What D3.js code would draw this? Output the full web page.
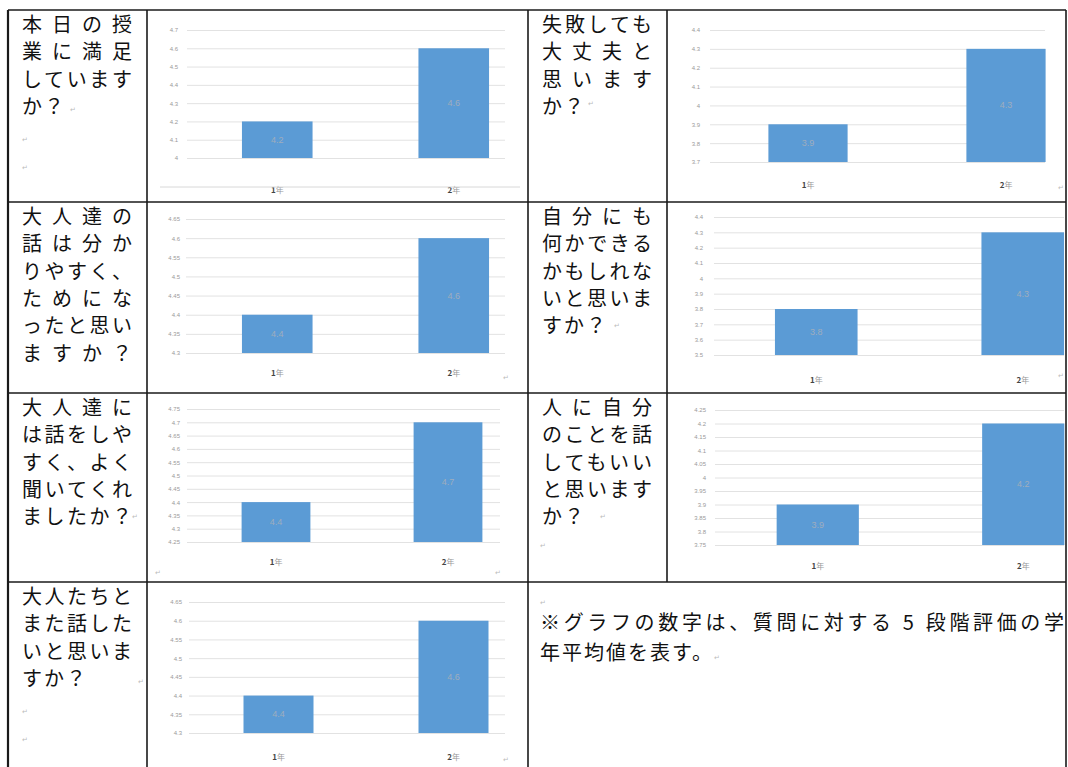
<!DOCTYPE html>
<html><head><meta charset="utf-8">
<script src="https://cdn.jsdelivr.net/npm/d3@7"></script>
<style>html,body{margin:0;padding:0;background:#fff;} svg{display:block}</style>
</head><body><svg id="c" width="1068" height="767"></svg>
<script>
// ---------- data ----------
const categories = ["1年", "2年"];

const qSatisfied      = ["本日の授", "業に満足", "しています", "か？"];
const qFailureOk      = ["失敗しても", "大丈夫と", "思います", "か？"];
const qTalkUnderstood = ["大人達の", "話は分か", "りやすく、", "ためにな", "ったと思い", "ますか？"];
const qCanDo          = ["自分にも", "何かできる", "かもしれな", "いと思いま", "すか？"];
const qEasyToTalk     = ["大人達に", "は話をしや", "すく、よく", "聞いてくれ", "ましたか？"];
const qTellSelf       = ["人に自分", "のことを話", "してもいい", "と思います", "か？"];
const qTalkAgain      = ["大人たちと", "また話した", "いと思いま", "すか？"];

const valsSatisfied      = [4.2, 4.6];
const valsFailureOk      = [3.9, 4.3];
const valsTalkUnderstood = [4.4, 4.6];
const valsCanDo          = [3.8, 4.3];
const valsEasyToTalk     = [4.4, 4.7];
const valsTellSelf       = [3.9, 4.2];
const valsTalkAgain      = [4.4, 4.6];

const ticksSatisfied      = ["4", "4.1", "4.2", "4.3", "4.4", "4.5", "4.6", "4.7"];
const ticksFailureOk      = ["3.7", "3.8", "3.9", "4", "4.1", "4.2", "4.3", "4.4"];
const ticksTalkUnderstood = ["4.3", "4.35", "4.4", "4.45", "4.5", "4.55", "4.6", "4.65"];
const ticksCanDo          = ["3.5", "3.6", "3.7", "3.8", "3.9", "4", "4.1", "4.2", "4.3", "4.4"];
const ticksEasyToTalk     = ["4.25", "4.3", "4.35", "4.4", "4.45", "4.5", "4.55", "4.6", "4.65", "4.7", "4.75"];
const ticksTellSelf       = ["3.75", "3.8", "3.85", "3.9", "3.95", "4", "4.05", "4.1", "4.15", "4.2", "4.25"];
const ticksTalkAgain      = ["4.3", "4.35", "4.4", "4.45", "4.5", "4.55", "4.6", "4.65"];

const footnoteLines = ["※グラフの数字は、質問に対する 5 段階評価の学", "年平均値を表す。"];

// ---------- layout (positions only) ----------
const colX = [8, 147, 528, 667, 1066];
const rowY = [10, 202, 393, 582, 767];

const charts = [
  {q: qSatisfied,      v: valsSatisfied,      t: ticksSatisfied,      col: 0, row: 0, gridL: 187, gridR: 505,  yTop: 30,  yBot: 158, xr: [189, 542],  labelX: 178, catY: 193},
  {q: qFailureOk,      v: valsFailureOk,      t: ticksFailureOk,      col: 1, row: 0, gridL: 710, gridR: 1045, yTop: 30,  yBot: 162, xr: [709, 1105], labelX: 700, catY: 188},
  {q: qTalkUnderstood, v: valsTalkUnderstood, t: ticksTalkUnderstood, col: 0, row: 1, gridL: 186, gridR: 505,  yTop: 219, yBot: 353, xr: [189, 542],  labelX: 180, catY: 376},
  {q: qCanDo,          v: valsCanDo,          t: ticksCanDo,          col: 1, row: 1, gridL: 714, gridR: 1064, yTop: 217, yBot: 355, xr: [713, 1126], labelX: 703, catY: 383},
  {q: qEasyToTalk,     v: valsEasyToTalk,     t: ticksEasyToTalk,     col: 0, row: 2, gridL: 187, gridR: 500,  yTop: 409, yBot: 542, xr: [190, 534],  labelX: 180, catY: 565},
  {q: qTellSelf,       v: valsTellSelf,       t: ticksTellSelf,       col: 1, row: 2, gridL: 715, gridR: 1064, yTop: 410, yBot: 545, xr: [715, 1126], labelX: 706, catY: 569},
  {q: qTalkAgain,      v: valsTalkAgain,      t: ticksTalkAgain,      col: 0, row: 3, gridL: 189, gridR: 505,  yTop: 602, yBot: 733, xr: [191, 541],  labelX: 182, catY: 760}
];

const svg = d3.select("#c");
const JP = "'Noto Sans CJK JP', 'Noto Sans CJK SC', sans-serif";

charts.forEach(c => {
  const qx = colX[c.col * 2] + 14;
  const ry = rowY[c.row];
  // question text
  c.q.forEach((line, i) => {
    const chars = Array.from(line).length;
    const t = svg.append("text")
      .attr("x", qx)
      .attr("y", ry + 22 + i * 27.3)
      .attr("font-family", JP)
      .attr("font-size", 20)
      .attr("fill", "#111")
      .text(line);
    if (chars >= 4) t.attr("textLength", 110).attr("lengthAdjust", "spacing");
    else t.attr("letter-spacing", 2);
  });

  // chart
  const y = d3.scaleLinear().domain([+c.t[0], +c.t[c.t.length - 1]]).range([c.yBot, c.yTop]);
  const x = d3.scaleBand().domain(categories).range(c.xr).paddingInner(0.6).paddingOuter(0.3);
  const g = svg.append("g");

  const ya = g.append("g").attr("transform", `translate(${c.gridL},0)`)
    .call(d3.axisLeft(y).tickValues(c.t.map(Number)).tickFormat((d, i) => c.t[i])
      .tickSize(-(c.gridR - c.gridL)).tickPadding(c.gridL - c.labelX));
  ya.select(".domain").remove();
  ya.selectAll(".tick line").attr("stroke", "#e2e2e2").attr("stroke-width", 1);
  ya.selectAll(".tick text").attr("fill", "#9a9a9a").attr("font-size", 6)
    .attr("font-family", "'Liberation Sans', Arial, sans-serif");

  g.selectAll("rect.bar").data(c.v).enter().append("rect")
    .attr("class", "bar")
    .attr("x", (d, i) => x(categories[i]))
    .attr("width", x.bandwidth())
    .attr("y", d => y(d))
    .attr("height", d => y.range()[0] - y(d))
    .attr("fill", "#5B9BD5");

  g.selectAll("text.val").data(c.v).enter().append("text")
    .attr("class", "val")
    .attr("x", (d, i) => x(categories[i]) + x.bandwidth() / 2)
    .attr("y", d => (y(d) + y.range()[0]) / 2 + 3)
    .attr("text-anchor", "middle")
    .attr("font-family", "'Liberation Sans', Arial, sans-serif")
    .attr("font-size", 9)
    .attr("fill", "#9fadbd")
    .text(d => d.toFixed(1));

  const xa = g.append("g").attr("transform", `translate(0,${c.catY})`)
    .call(d3.axisBottom(x).tickSize(0).tickPadding(0));
  xa.select(".domain").remove();
  xa.selectAll(".tick text").attr("dy", 0).attr("fill", "#666").attr("font-size", 8)
    .attr("font-family", JP)
    .each(function(d) {
      const s = d3.select(this); s.text("");
      s.append("tspan").attr("font-weight", "bold").attr("fill", "#444").text(d.slice(0, 1));
      s.append("tspan").attr("fill", "#999").text(d.slice(1));
    });
});

// faint chart frame line under first chart
svg.append("line").attr("x1", 160).attr("x2", 520).attr("y1", 187).attr("y2", 187)
  .attr("stroke", "#d8d8d8").attr("stroke-width", 1);

// footnote
footnoteLines.forEach((line, i) => {
  const t = svg.append("text")
    .attr("x", 540).attr("y", 630 + i * 30)
    .attr("font-family", JP).attr("font-size", 20).attr("fill", "#111")
    .text(line);
  if (i === 0) t.attr("textLength", 524).attr("lengthAdjust", "spacing");
  else t.attr("letter-spacing", 2);
});

// paragraph marks
const marks = [[70, 112], [22, 142], [22, 170], [588, 106], [1058, 190], [503, 380], [614, 328],
               [1058, 378], [132, 519], [155, 575], [495, 575], [600, 519], [540, 548], [138, 684],
               [22, 714], [22, 742], [503, 762], [540, 605], [714, 660]];
svg.selectAll("text.mark").data(marks).enter().append("text").attr("class", "mark")
  .attr("x", d => d[0]).attr("y", d => d[1])
  .attr("font-family", "'DejaVu Sans', sans-serif").attr("font-size", 7).attr("fill", "#bbb")
  .text("↵");

// table borders
const bw = 1.6, bc = "#1a1a1a";
[0, 1, 2, 3].forEach(r => {
  svg.append("line").attr("x1", colX[0]).attr("x2", colX[4]).attr("y1", rowY[r]).attr("y2", rowY[r])
    .attr("stroke", bc).attr("stroke-width", bw);
});
[0, 1, 2, 4].forEach(ci => {
  svg.append("line").attr("x1", colX[ci]).attr("x2", colX[ci]).attr("y1", rowY[0]).attr("y2", rowY[4])
    .attr("stroke", bc).attr("stroke-width", ci === 0 ? 2.2 : bw);
});
svg.append("line").attr("x1", colX[3]).attr("x2", colX[3]).attr("y1", rowY[0]).attr("y2", rowY[3])
  .attr("stroke", bc).attr("stroke-width", bw);
</script>
</body></html>
